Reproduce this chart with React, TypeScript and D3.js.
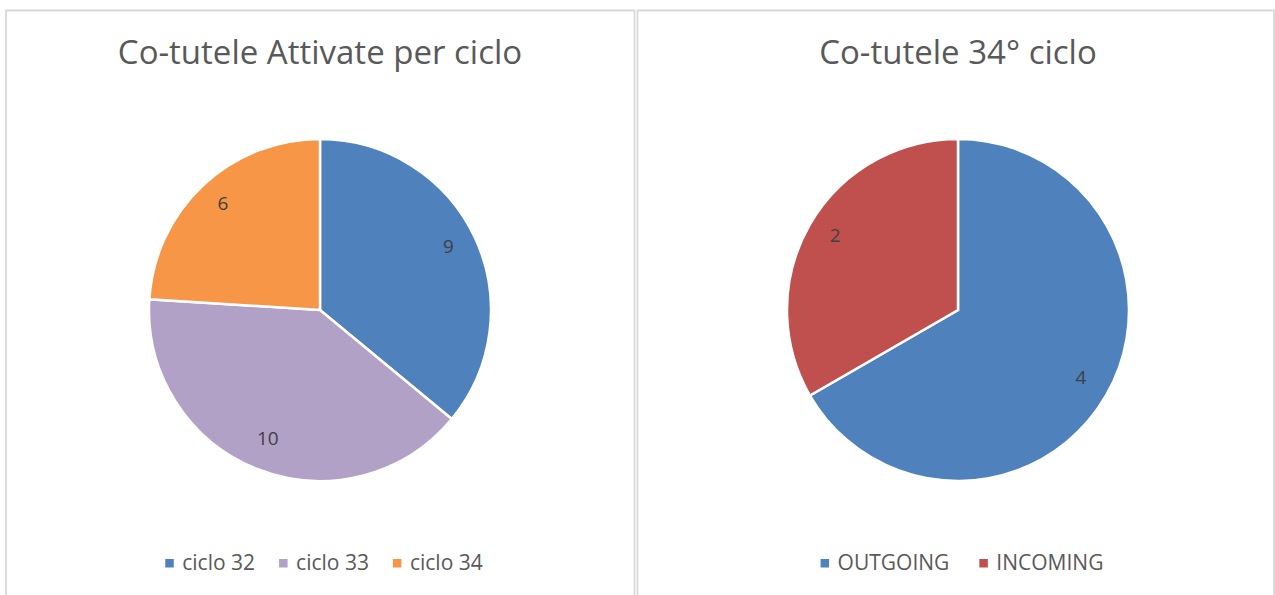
import React from "react";
import * as d3 from "d3";

const leftTitle = "Co-tutele Attivate per ciclo";
const leftCategories = ["ciclo 32", "ciclo 33", "ciclo 34"];
const leftValues = [9, 10, 6];
const leftColors = ["#4F81BD", "#B2A1C7", "#F79646"];

const rightTitle = "Co-tutele 34° ciclo";
const rightCategories = ["OUTGOING", "INCOMING"];
const rightValues = [4, 2];
const rightColors = ["#4F81BD", "#C0504D"];

const FONT = "'Open Sans', 'Noto Sans', sans-serif";

let measureCtx: CanvasRenderingContext2D | null = null;
function measure(text: string, size: number): number {
  if (!measureCtx) {
    const c = document.createElement("canvas");
    measureCtx = c.getContext("2d");
  }
  if (!measureCtx) return text.length * size * 0.55;
  measureCtx.font = `${size}px ${FONT}`;
  return measureCtx.measureText(text).width;
}

type PanelProps = {
  x: number;
  width: number;
  title: string;
  categories: string[];
  values: number[];
  colors: string[];
  legendGap: number;
};

function PiePanel({ x, width, title, categories, values, colors, legendGap }: PanelProps) {
  const cx = x + width / 2;
  const cy = 310;
  const r = 171;
  const pie = d3.pie<number>().sort(null).value((d) => d)(values);
  const arc = d3.arc<d3.PieArcDatum<number>>().innerRadius(0).outerRadius(r);
  const labelArc = d3.arc<d3.PieArcDatum<number>>().innerRadius(r * 0.83).outerRadius(r * 0.83);

  const fontSize = 21;
  const items = categories.map((c) => ({ c, w: 17 + measure(c, fontSize) }));
  const totalW = items.reduce((a, b) => a + b.w, 0) + legendGap * (items.length - 1);
  let lx = cx + 4 - totalW / 2;
  const legendItems = items.map((it, i) => {
    const pos = lx;
    lx += it.w + legendGap;
    return { ...it, x: pos, color: colors[i] };
  });

  return (
    <g>
      <text x={cx} y={64} textAnchor="middle" fontFamily={FONT} fontSize={33} fill="#595959">
        {title}
      </text>
      <g transform={`translate(${cx},${cy})`}>
        {pie.map((p, i) => (
          <path key={i} d={arc(p) || ""} fill={colors[i]} stroke="#fff" strokeWidth={2.5} />
        ))}
        {pie.map((p, i) => {
          const [lxp, lyp] = labelArc.centroid(p);
          return (
            <text key={"l" + i} x={lxp} y={lyp - 4} textAnchor="middle" dominantBaseline="central"
              fontFamily={FONT} fontSize={19} fill="#404040">
              {values[i]}
            </text>
          );
        })}
      </g>
      {legendItems.map((it, i) => (
        <g key={"lg" + i}>
          <rect x={it.x} y={559} width={8.5} height={8.5} fill={it.color} />
          <text x={it.x + 17} y={570} fontFamily={FONT} fontSize={fontSize} fill="#595959">
            {it.c}
          </text>
        </g>
      ))}
    </g>
  );
}

export default function App() {
  return (
    <svg width={1275} height={595} style={{ position: "absolute", left: 0, top: 0, background: "#fff" }}>
      <rect x={0} y={0} width={1275} height={595} fill="#fff" />
      <path d="M6,600 V10.5 H634.5 V600" fill="none" stroke="#d9d9d9" strokeWidth={1.8} />
      <path d="M637.5,600 V10.5 H1274 V600" fill="none" stroke="#d9d9d9" strokeWidth={1.8} />
      <PiePanel x={6} width={628} title={leftTitle} categories={leftCategories} values={leftValues}
        colors={leftColors} legendGap={24} />
      <PiePanel x={637} width={642} title={rightTitle} categories={rightCategories} values={rightValues}
        colors={rightColors} legendGap={30} />
    </svg>
  );
}
